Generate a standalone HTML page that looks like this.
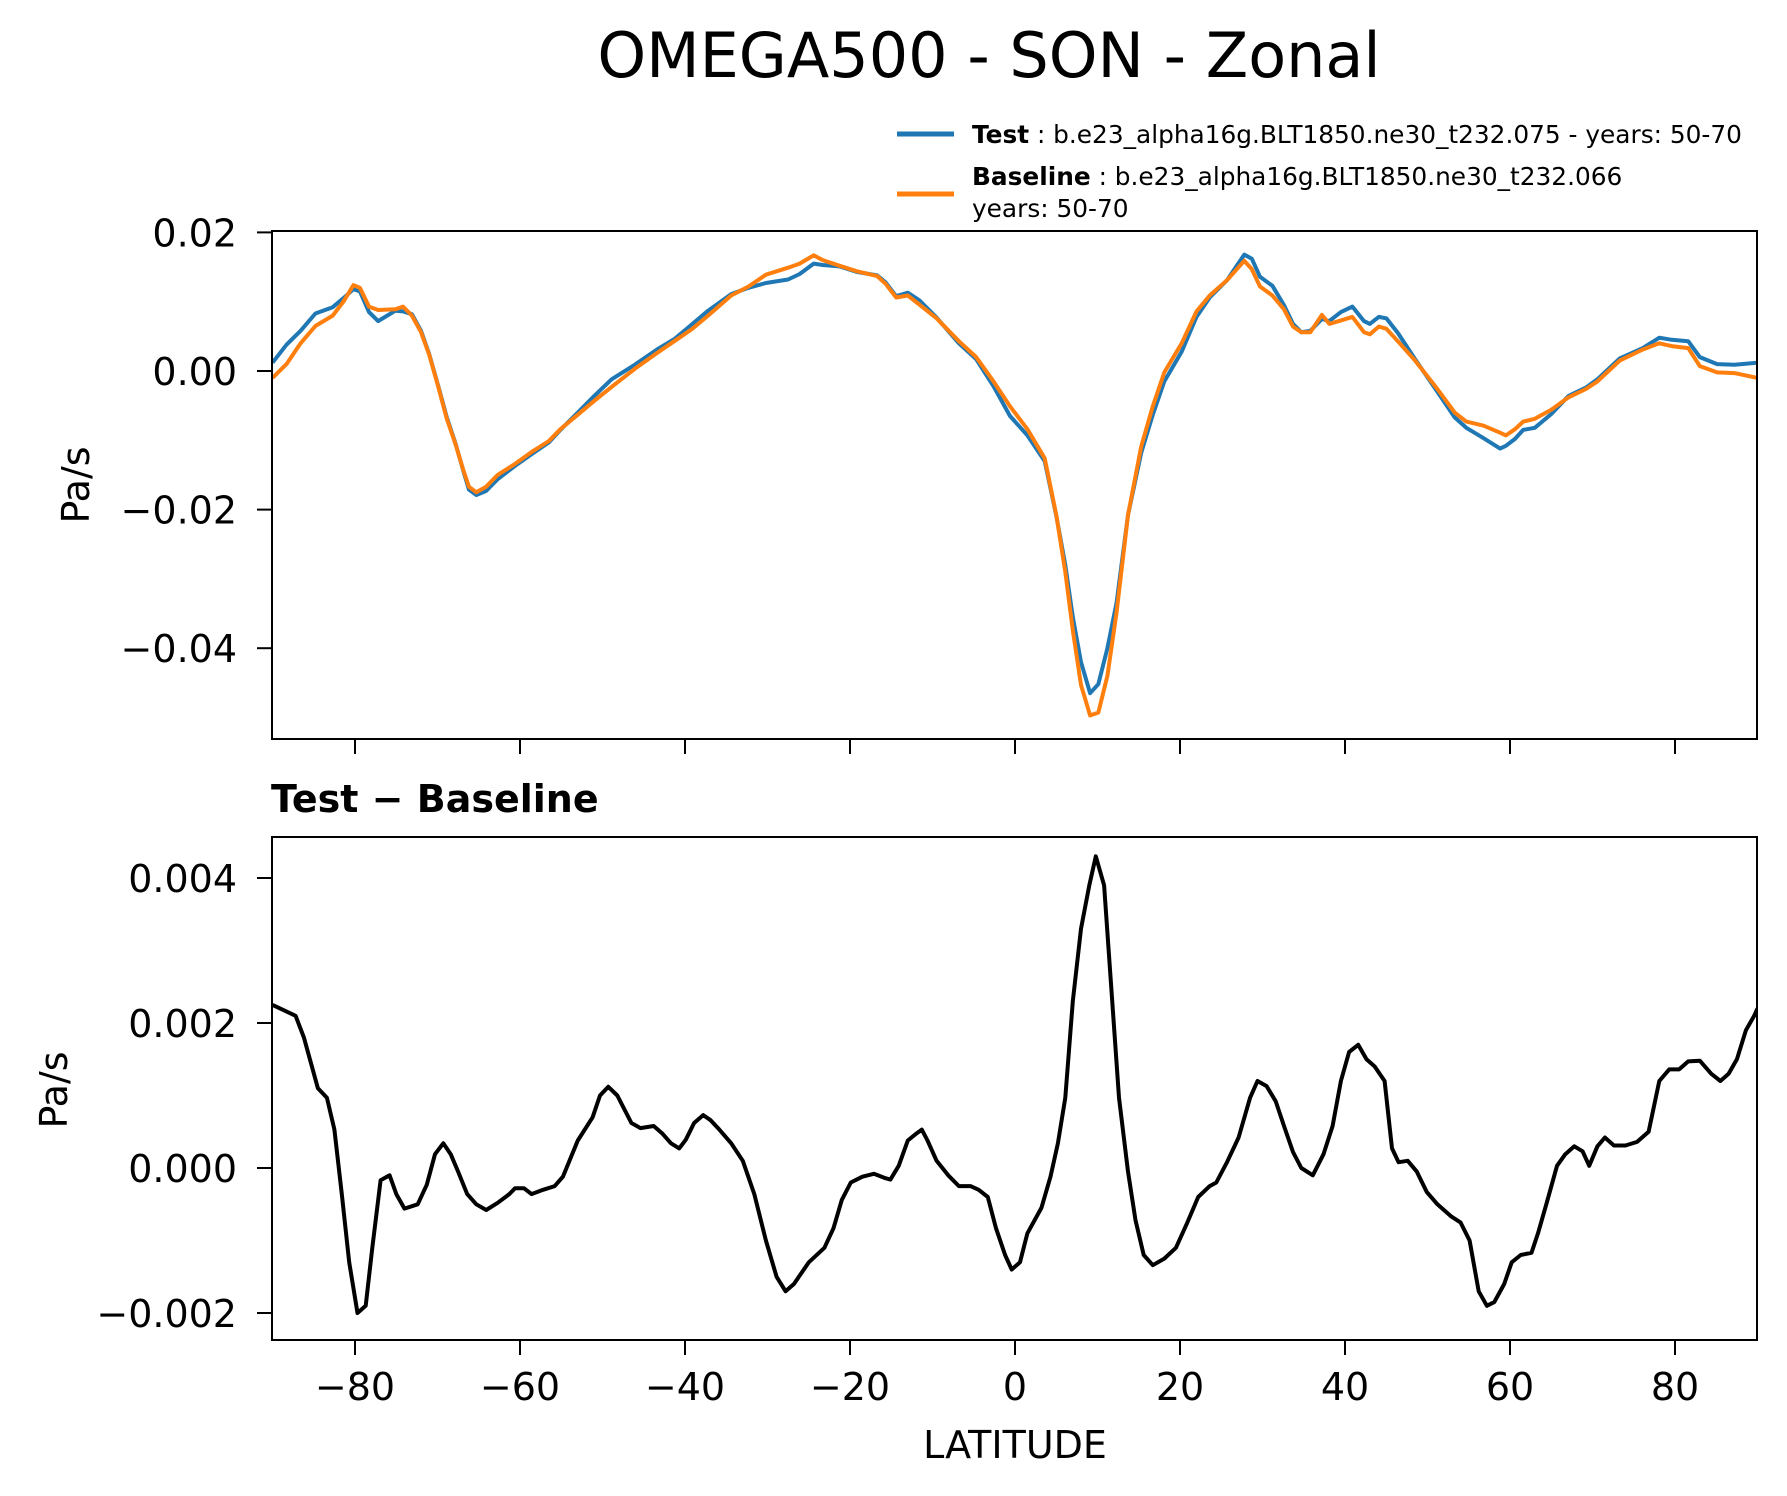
<!DOCTYPE html>
<html><head><meta charset="utf-8"><style>
html,body{margin:0;padding:0;background:#fff}
svg{display:block;font-family:"DejaVu Sans","Liberation Sans",sans-serif}
</style></head><body>
<svg id="chart" width="1787" height="1496" viewBox="0 0 1787 1496" xmlns="http://www.w3.org/2000/svg">
<rect width="1787" height="1496" fill="#fff"/>
<text x="989" y="77" font-size="62" text-anchor="middle">OMEGA500 - SON - Zonal</text>
<g>
<line x1="897" y1="134" x2="954" y2="134" stroke="#1f77b4" stroke-width="5"/>
<text x="972" y="143" font-size="24.8"><tspan font-weight="bold">Test</tspan> : b.e23_alpha16g.BLT1850.ne30_t232.075 - years: 50-70</text>
<line x1="897" y1="194" x2="954" y2="194" stroke="#ff7f0e" stroke-width="5"/>
<text x="972" y="185" font-size="24.8"><tspan font-weight="bold">Baseline</tspan> : b.e23_alpha16g.BLT1850.ne30_t232.066</text>
<text x="972" y="217" font-size="24.8">years: 50-70</text>
</g>
<g id="top"></g>
<g id="bot"></g>
<text x="271" y="812" font-size="38" font-weight="bold">Test − Baseline</text>
<text font-size="38" text-anchor="middle" transform="translate(89,485) rotate(-90)">Pa/s</text>
<text font-size="38" text-anchor="middle" transform="translate(67,1090) rotate(-90)">Pa/s</text>
<text x="1015" y="1458" font-size="38" text-anchor="middle">LATITUDE</text>
</svg>
<script>
const baseLat = [-90,-88.3,-86.6,-84.8,-82.7,-81.4,-80.2,-79.4,-78.3,-77.2,-75.1,-74.2,-73.1,-72,-71,-69.9,-68.9,-67.8,-66.9,-66.2,-65.3,-64.1,-62.7,-60.6,-58.6,-56.5,-55.1,-53,-51,-48.9,-46.1,-43.4,-41.3,-39.2,-37.2,-34.4,-32.3,-30.2,-27.5,-26.1,-24.4,-23.3,-21.3,-19.2,-16.7,-15.7,-14.4,-13,-11.6,-9.5,-6.8,-4.7,-2.6,-0.6,1.5,3.6,5,6.1,7,8,9.1,10.1,11.2,12.3,13.7,15.3,16.7,18.1,20.2,22,23.6,25.7,27.8,28.7,29.7,31.2,32.6,33.7,34.7,35.8,37.2,38.1,39.5,40.9,42.3,43,44.1,45,46.4,48.5,51.2,53.3,54.7,56.8,58.8,59.5,60.6,61.6,63,65,67.1,69.2,70.6,73.3,76.1,78.1,79.6,81.6,83,85.1,87.2,90];
const baselineVals = [-0.001,0.001,0.004,0.0065,0.008,0.010,0.0124,0.012,0.0093,0.0088,0.0089,0.0093,0.008,0.0056,0.0023,-0.0023,-0.0068,-0.0106,-0.0142,-0.0167,-0.0175,-0.0167,-0.015,-0.0134,-0.0117,-0.0101,-0.0084,-0.0063,-0.0043,-0.0023,0.0003,0.0026,0.0043,0.006,0.008,0.0109,0.0122,0.0139,0.0149,0.0155,0.0167,0.016,0.0152,0.0144,0.0137,0.0126,0.0106,0.0109,0.0096,0.0076,0.0043,0.002,-0.0015,-0.0051,-0.0084,-0.0126,-0.0208,-0.029,-0.0374,-0.0453,-0.0497,-0.0493,-0.044,-0.0349,-0.0208,-0.0109,-0.0051,-0.0002,0.004,0.0086,0.0109,0.0131,0.0159,0.0147,0.0122,0.0109,0.0089,0.0064,0.0056,0.0056,0.0081,0.0068,0.0073,0.0078,0.0056,0.0053,0.0064,0.0061,0.0043,0.0015,-0.0026,-0.006,-0.0073,-0.0079,-0.0089,-0.0093,-0.0084,-0.0073,-0.0069,-0.0056,-0.0038,-0.0026,-0.0015,0.0015,0.0031,0.004,0.0036,0.0033,0.0007,-0.0002,-0.0003,-0.001];
const testVals = [0.0012,0.0038,0.0058,0.0083,0.0092,0.0105,0.0118,0.0115,0.0085,0.0072,0.0087,0.0086,0.0082,0.0058,0.0024,-0.0022,-0.0066,-0.0105,-0.0143,-0.0171,-0.0179,-0.0173,-0.0156,-0.0137,-0.012,-0.0103,-0.0085,-0.006,-0.0036,-0.0012,0.0009,0.0031,0.0046,0.0067,0.0087,0.0111,0.012,0.0127,0.0132,0.014,0.0155,0.0153,0.0151,0.0143,0.0138,0.0128,0.0108,0.0113,0.0102,0.0077,0.004,0.0017,-0.0022,-0.0065,-0.0093,-0.013,-0.0209,-0.028,-0.0355,-0.042,-0.0465,-0.0452,-0.040,-0.0335,-0.0208,-0.0118,-0.0063,-0.0015,0.0028,0.0078,0.0106,0.0131,0.0168,0.0162,0.0136,0.0123,0.0095,0.0068,0.0056,0.0058,0.0075,0.0072,0.0085,0.0093,0.0072,0.0068,0.0078,0.0076,0.0055,0.0017,-0.003,-0.0067,-0.0082,-0.0097,-0.0112,-0.0108,-0.0098,-0.0085,-0.0082,-0.0062,-0.0036,-0.0024,-0.0012,0.0018,0.0033,0.0048,0.0045,0.0043,0.002,0.001,0.0009,0.0012];
const diffLat = [-90,-87.2,-86.2,-84.5,-83.4,-82.5,-81.6,-80.7,-79.7,-78.7,-77.9,-76.9,-75.8,-75,-74,-72.4,-71.3,-70.3,-69.3,-68.4,-67.5,-66.4,-65.3,-64.1,-62.7,-61.3,-60.6,-59.5,-58.6,-57.2,-55.8,-54.8,-53,-51.2,-50.3,-49.3,-48.2,-46.5,-45.4,-43.8,-42.7,-41.7,-40.7,-39.9,-38.9,-37.8,-36.9,-36,-34.4,-33,-31.6,-30.2,-28.9,-27.8,-26.8,-25,-23.1,-22,-21,-19.9,-18.5,-17.1,-15.7,-15.1,-14.1,-13,-11.9,-11.3,-10.6,-9.5,-8.1,-6.8,-5.4,-4.4,-3.3,-2.3,-1.2,-0.4,0.6,1.5,3.2,4.3,5.2,6.1,7,8,9,9.8,10.8,11.6,12.6,13.7,14.6,15.6,16.7,18.1,19.5,20.9,22.2,23.6,24.4,25.7,27.1,28.5,29.4,30.5,31.6,32.6,33.7,34.7,36.1,37.4,38.5,39.5,40.5,41.6,42.6,43.6,44.8,45.7,46.5,47.6,48.7,49.9,51.2,52.9,54,55.1,56.2,57.2,58.1,59.3,60.2,61.3,62.6,63.4,64.4,65.7,66.7,67.8,68.8,69.6,70.6,71.5,72.6,74,75.4,76.8,78.1,79.3,80.5,81.6,83,84.4,85.5,86.5,87.5,88.6,89.6,90];
const diffVals = [0.00225,0.0021,0.0018,0.0011,0.00097,0.00053,-0.00036,-0.0013,-0.002,-0.0019,-0.0011,-0.00017,-0.0001,-0.00036,-0.00056,-0.0005,-0.00023,0.00019,0.00034,0.00019,-0.00005,-0.00036,-0.0005,-0.00058,-0.00048,-0.00036,-0.00028,-0.00028,-0.00036,-0.0003,-0.00025,-0.00012,0.00038,0.0007,0.001,0.00112,0.001,0.00062,0.00055,0.00058,0.00047,0.00034,0.00027,0.00039,0.00062,0.00073,0.00066,0.00055,0.00034,0.0001,-0.00036,-0.001,-0.0015,-0.0017,-0.0016,-0.0013,-0.0011,-0.00083,-0.00044,-0.0002,-0.00012,-0.00008,-0.00014,-0.00016,0.00003,0.00038,0.00048,0.00053,0.00038,0.0001,-0.0001,-0.00025,-0.00025,-0.0003,-0.0004,-0.00083,-0.0012,-0.0014,-0.0013,-0.0009,-0.00055,-0.00012,0.00034,0.00097,0.0023,0.0033,0.0039,0.0043,0.0039,0.0026,0.00097,-0.00005,-0.00072,-0.0012,-0.00134,-0.00125,-0.0011,-0.00075,-0.0004,-0.00025,-0.0002,0.00008,0.00042,0.00097,0.0012,0.00113,0.00092,0.00058,0.00022,0,-0.0001,0.00019,0.00058,0.0012,0.0016,0.0017,0.0015,0.0014,0.0012,0.00027,0.00008,0.0001,-0.00005,-0.00033,-0.0005,-0.00067,-0.00075,-0.001,-0.0017,-0.0019,-0.00185,-0.0016,-0.0013,-0.0012,-0.00117,-0.0009,-0.0005,0.00003,0.00019,0.0003,0.00023,0.00003,0.0003,0.00042,0.00031,0.00031,0.00036,0.0005,0.0012,0.00136,0.00136,0.00147,0.00148,0.0013,0.0012,0.0013,0.0015,0.0019,0.0021,0.0022];
const xTicks = [-80,-60,-40,-20,0,20,40,60,80];
const topYTicks = [0.02,0.00,-0.02,-0.04];
const topYLabels = ["0.02","0.00","−0.02","−0.04"];
const botYTicks = [0.004,0.002,0,-0.002];
const botYLabels = ["0.004","0.002","0.000","−0.002"];

const NS = "http://www.w3.org/2000/svg";
const L = 272, R = 1757;
const xS = v => 1015 + v * 8.25;
const topY = v => 371 - v / 0.02 * 138.6;
const botY = v => 1168 - v / 0.001 * 72.5;
function mk(tag, attrs, parent) {
  const e = document.createElementNS(NS, tag);
  for (const k in attrs) e.setAttribute(k, attrs[k]);
  parent.appendChild(e);
  return e;
}
function panel(g, top, bottom, yS, yt, yl, name, showX) {
  const clipId = name + "-clip";
  const cp = mk("clipPath", {id: clipId}, g);
  mk("rect", {x: L, y: top, width: R - L, height: bottom - top}, cp);
  yt.forEach((v, i) => {
    const y = yS(v);
    const t = mk("line", {x1: L - 15, x2: L, y1: y, y2: y, stroke: "#000", "stroke-width": 2}, g);
    
    
    const tx = mk("text", {x: L - 35, y: y + 14, "font-size": 38, "text-anchor": "end"}, g);
    tx.textContent = yl[i];
    
    
  });
  xTicks.forEach(v => {
    const x = xS(v);
    const t = mk("line", {x1: x, x2: x, y1: bottom, y2: bottom + 15, stroke: "#000", "stroke-width": 2}, g);
    
    
    if (showX) {
      const tx = mk("text", {x: x, y: 1400, "font-size": 38, "text-anchor": "middle"}, g);
      tx.textContent = v < 0 ? "−" + Math.abs(v) : String(v);
      
      
    }
  });
  return clipId;
}
function frame(g, top, bottom, name) {
  const f = mk("rect", {x: L, y: top, width: R - L, height: bottom - top, fill: "none", stroke: "#000", "stroke-width": 2}, g);
  
  
}
function line(g, lats, vals, yS, color, clipId, name) {
  const d = lats.map((la, i) => (i ? "L" : "M") + xS(la).toFixed(1) + "," + yS(vals[i]).toFixed(1)).join("");
  const p = mk("path", {d: d, fill: "none", stroke: color, "stroke-width": 4, "stroke-linejoin": "round", "clip-path": "url(#" + clipId + ")"}, g);
  
  
}
const gt = document.getElementById("top");
const c1 = panel(gt, 231, 739, topY, topYTicks, topYLabels, "top-panel", false);
line(gt, baseLat, testVals, topY, "#1f77b4", c1, "test-line");
line(gt, baseLat, baselineVals, topY, "#ff7f0e", c1, "baseline-line");
frame(gt, 231, 739, "top-panel");
const gb = document.getElementById("bot");
const c2 = panel(gb, 837, 1340, botY, botYTicks, botYLabels, "bottom-panel", true);
line(gb, diffLat, diffVals, botY, "#000", c2, "difference-line");
frame(gb, 837, 1340, "bottom-panel");
</script>
</body></html>
